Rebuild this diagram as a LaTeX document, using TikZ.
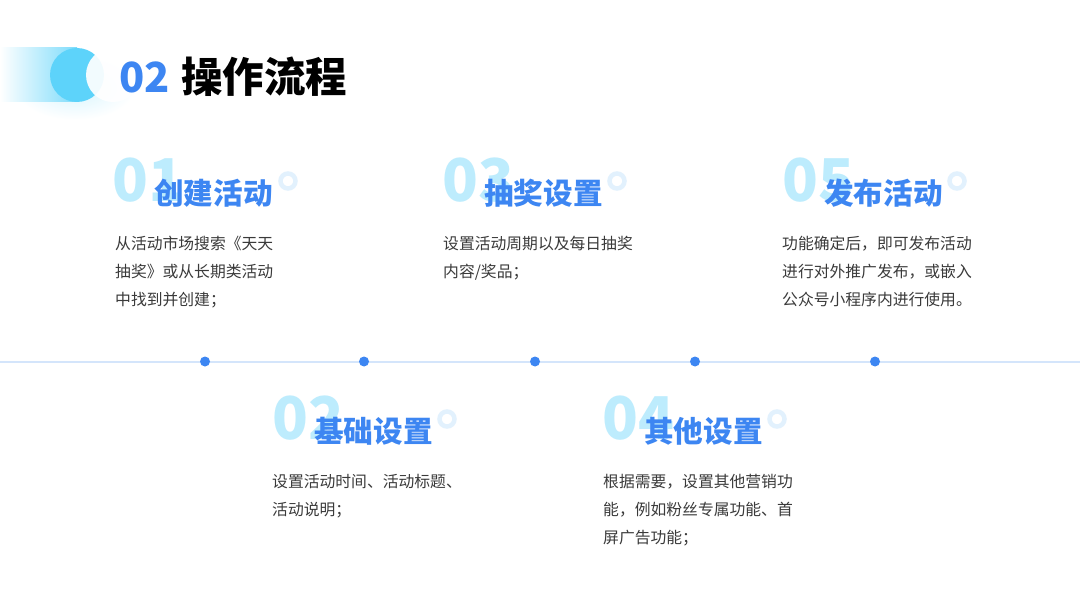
\documentclass[tikz,border=0pt]{standalone}
\usepackage{fontspec}
\setmainfont{Noto Sans CJK SC}
\newfontfamily\cjk{Noto Sans CJK SC}
\definecolor{mainblue}{HTML}{3D86F2}
\definecolor{linebl}{HTML}{D4E5FB}
\definecolor{numcy}{HTML}{BDECFD}
\definecolor{ringc}{HTML}{E2F1FD}
\definecolor{cyanA}{HTML}{5DD3FA}
\definecolor{bodyc}{HTML}{3A3A3A}
\tikzset{
  x=1pt, y=-1pt,
  bignum/.style={anchor=base west, inner sep=0, text=numcy, font=\cjk\bfseries\fontsize{59}{59}\selectfont},
  sectitle/.style={anchor=base west, inner sep=0, text=mainblue, font=\cjk\bfseries\fontsize{29.6}{29.6}\selectfont},
  bodyline/.style={anchor=base west, inner sep=0, text=bodyc, font=\cjk\fontsize{15.8}{15.8}\selectfont},
  ringmark/.style={draw=ringc, line width=4.5pt},
  dotmark/.style={circle, fill=mainblue, inner sep=0, minimum size=10pt},
}
\begin{document}
\begin{tikzpicture}
\useasboundingbox (0,0) rectangle (1080,607);
\fill[white] (0,0) rectangle (1080,607);
% header decoration
\shade[inner color=cyanA!25, outer color=white] (75,88) ellipse (60 and 32);
\shade[left color=white, right color=cyanA!80] (0,48) rectangle (77,102);
\fill[cyanA] (77,75) circle (27);
\fill[white, opacity=0.92] (113,75) circle (27);
\node[anchor=base west, inner sep=0, text=mainblue, font=\cjk\bfseries\fontsize{41.5}{41.5}\selectfont] (hnum) at (119,92.5) {02};
\node[anchor=base west, inner sep=0, text=black, font=\cjk\bfseries\fontsize{41.5}{41.5}\selectfont] (htitle) at (181,92.5) {操作流程};
% timeline
\coordinate (la) at (0,361.5);
\coordinate (lb) at (1080,361.5);
\draw[linebl, line width=2pt] (la) -- (lb);
\node[dotmark] (d1) at (205,361.5) {};
\node[dotmark] (d2) at (364,361.5) {};
\node[dotmark] (d3) at (535,361.5) {};
\node[dotmark] (d4) at (695,361.5) {};
\node[dotmark] (d5) at (875,361.5) {};
% section 1
\node[bignum] (n1) at (112,201) {01};
\draw[ringmark] (288,181) circle (7.5);
\node[sectitle] (s1) at (154,204.5) {创建活动};
\node[bodyline] (b1a) at (115,249) {从活动市场搜索《天天};
\node[bodyline] (b1b) at (115,277) {抽奖》或从长期类活动};
\node[bodyline] (b1c) at (115,305) {中找到并创建；};
% section 3
\node[bignum] (n3) at (442,201) {03};
\draw[ringmark] (617,181) circle (7.5);
\node[sectitle] (s3) at (484,204.5) {抽奖设置};
\node[bodyline] (b3a) at (443,249) {设置活动周期以及每日抽奖};
\node[bodyline] (b3b) at (443,277) {内容/奖品；};
% section 5
\node[bignum] (n5) at (782,201) {05};
\draw[ringmark] (957,181) circle (7.5);
\node[sectitle] (s5) at (824,204.5) {发布活动};
\node[bodyline] (b5a) at (782,249) {功能确定后，即可发布活动};
\node[bodyline] (b5b) at (782,277) {进行对外推广发布，或嵌入};
\node[bodyline] (b5c) at (782,305) {公众号小程序内进行使用。};
% section 2
\node[bignum] (n2) at (272,439) {02};
\draw[ringmark] (447,419) circle (7.5);
\node[sectitle] (s2) at (314,442.5) {基础设置};
\node[bodyline] (b2a) at (272,487) {设置活动时间、活动标题、};
\node[bodyline] (b2b) at (272,515) {活动说明；};
% section 4
\node[bignum] (n4) at (602,439) {04};
\draw[ringmark] (777,419) circle (7.5);
\node[sectitle] (s4) at (644,442.5) {其他设置};
\node[bodyline] (b4a) at (603,487) {根据需要，设置其他营销功};
\node[bodyline] (b4b) at (603,515) {能，例如粉丝专属功能、首};
\node[bodyline] (b4c) at (603,543) {屏广告功能；};
\end{tikzpicture}
\end{document}
